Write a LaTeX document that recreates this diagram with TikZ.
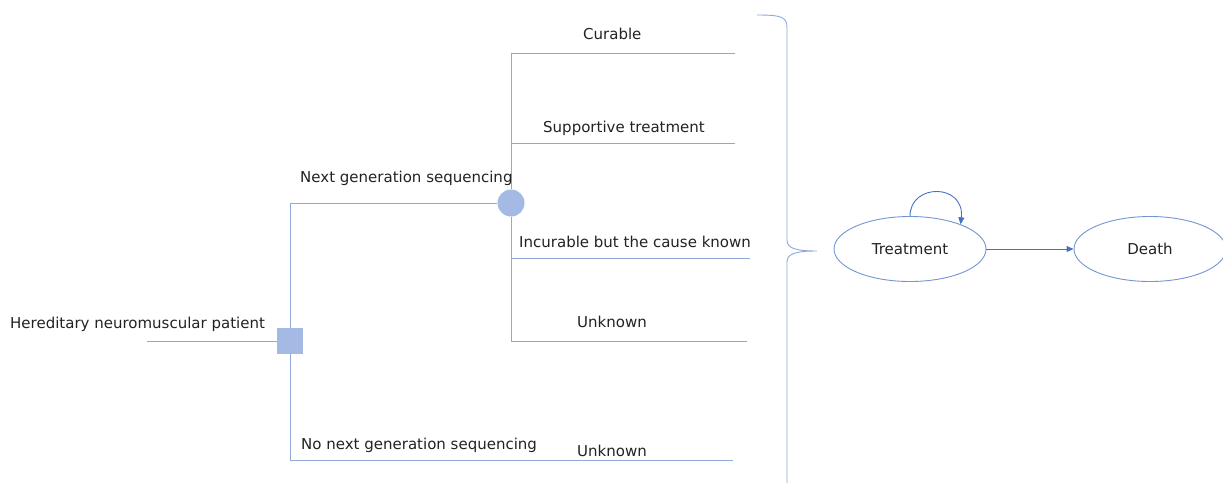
\documentclass[tikz,border=0pt]{standalone}
\usepackage{fontspec}
\setmainfont{DejaVu Sans}
\usetikzlibrary{shapes.geometric,arrows.meta}
\definecolor{branch}{RGB}{143,168,218}
\definecolor{nodefill}{RGB}{164,186,228}
\definecolor{arrowblue}{RGB}{68,114,196}
\definecolor{ink}{RGB}{34,34,34}
\begin{document}
\begin{tikzpicture}[x=1pt,y=-1pt,
    line/.style={draw=branch,line width=0.9pt},
    lab/.style={anchor=west,inner sep=0pt,text=ink,font=\fontsize{15}{18}\selectfont},
    decision/.style={rectangle,fill=nodefill,minimum size=26pt,inner sep=0pt},
    chance/.style={circle,fill=nodefill,minimum size=27pt,inner sep=0pt},
    state/.style={ellipse,draw=arrowblue!75,line width=0.9pt,minimum width=152pt,minimum height=65pt,text=ink,font=\fontsize{15}{18}\selectfont},
    arr/.style={draw=arrowblue,line width=0.9pt,-{Triangle[length=7pt,width=6pt]}}]
    \useasboundingbox (0,0) rectangle (1223,483);
    % decision and chance nodes
    \node [decision] (dec) at (290,341) {};
    \node [chance] (ngs) at (511,203) {};
    \coordinate (root) at (147,341);
    \coordinate (nongs) at (733,460);
    \coordinate (cur) at (735,53);
    \coordinate (sup) at (735,143);
    \coordinate (inc) at (750,258);
    \coordinate (unk) at (747,341);
    \draw [line] (root) -- (dec);
    \draw [line] (dec) |- (ngs);
    \draw [line] (dec) |- (nongs);
    \draw [line] (ngs) |- (cur);
    \draw [line] (ngs) |- (sup);
    \draw [line] (ngs) |- (inc);
    \draw [line] (ngs) |- (unk);
    % labels
    \node [lab] (lroot) at (10,324) {Hereditary neuromuscular patient};
    \node [lab] (lngs) at (300,178) {Next generation sequencing};
    \node [lab] (lnongs) at (301,445) {No next generation sequencing};
    \node [lab] (lunk2) at (577,451) {Unknown};
    \node [lab] (lcur) at (583,34) {Curable};
    \node [lab] (lsup) at (543,128) {Supportive treatment};
    \node [lab] (linc) at (519,242) {Incurable but the cause known};
    \node [lab] (lunk) at (577,322) {Unknown};
    % brace
    \draw [line] (757,15) .. controls (782,15) and (787,17) .. (787,28) -- (787,240)
        .. controls (787,248) and (795,251) .. (817,251)
        .. controls (795,251) and (787,254) .. (787,262) -- (787,483);
    % states
    \node [state] (treat) at (910,249) {Treatment};
    \node [state] (death) at (1150,249) {Death};
    \draw [arr] (treat) -- (death);
    \draw [arr] (treat.north) .. controls (910,183) and (965,183) .. (treat.26);
\end{tikzpicture}
\end{document}
